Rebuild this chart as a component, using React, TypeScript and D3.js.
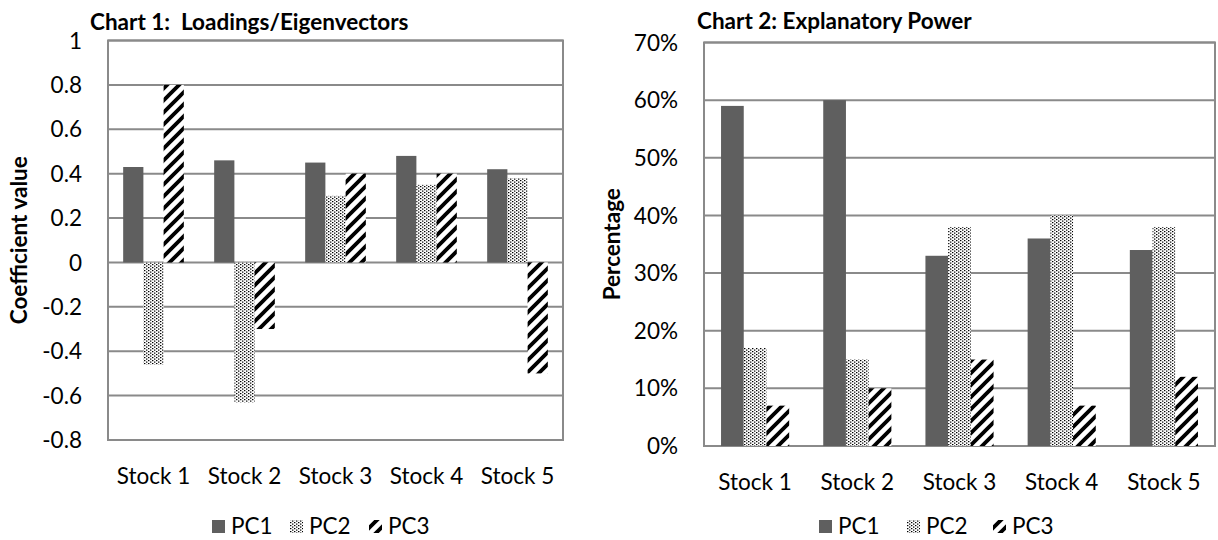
import React from 'react';
import * as d3 from 'd3';

const stocks = ['Stock 1', 'Stock 2', 'Stock 3', 'Stock 4', 'Stock 5'];
const seriesNames = ['PC1', 'PC2', 'PC3'];

const loadingsPC1 = [0.43, 0.46, 0.45, 0.48, 0.42];
const loadingsPC2 = [-0.46, -0.63, 0.3, 0.35, 0.38];
const loadingsPC3 = [0.8, -0.3, 0.4, 0.4, -0.5];

const powerPC1 = [0.59, 0.6, 0.33, 0.36, 0.34];
const powerPC2 = [0.17, 0.15, 0.38, 0.4, 0.38];
const powerPC3 = [0.07, 0.1, 0.15, 0.07, 0.12];

const loadingTicks = [-0.8, -0.6, -0.4, -0.2, 0, 0.2, 0.4, 0.6, 0.8, 1];
const powerTicks = [0, 0.1, 0.2, 0.3, 0.4, 0.5, 0.6, 0.7];

const FONT = 'Lato, "Open Sans", sans-serif';
const GRID = '#8a8a8a';
const FS = 22.5;
const fills = ['#5f5f5f', 'url(#dots)', 'url(#diag)'];

type ChartProps = {
  title: string;
  yTitle: string;
  series: number[][];
  ticks: number[];
  fmt: (v: number) => string;
  left: number;
  right: number;
  top: number;
  bottom: number;
  titleX: number;
  titleY: number;
  yTitleX: number;
  legendX: number;
  legendOffsets: number[];
};

function Chart(p: ChartProps) {
  const y = d3.scaleLinear().domain([p.ticks[0], p.ticks[p.ticks.length - 1]]).range([p.bottom, p.top]);
  const x0 = d3.scaleBand().domain(stocks).range([p.left, p.right]).paddingInner(0).paddingOuter(0);
  const bw = x0.bandwidth() / 4.5;
  const x1 = d3.scaleBand().domain(seriesNames).range([0, bw * 3]);
  const y0 = y(Math.max(0, p.ticks[0]));
  return (
    <g>
      <text
        x={p.titleX}
        y={p.titleY}
        fontFamily={FONT}
        fontWeight="bold"
        fontSize={FS}
        fill="#000"
        style={{ whiteSpace: 'pre' }}
      >
        {p.title}
      </text>
      {p.ticks.map((t) => (
        <g key={t}>
          <line x1={p.left} x2={p.right} y1={y(t)} y2={y(t)} stroke={GRID} strokeWidth={2} />
          <text x={p.left - 26} y={y(t)} dy="0.36em" textAnchor="end" fontFamily={FONT} fontSize={FS} fill="#000">
            {p.fmt(t)}
          </text>
        </g>
      ))}
      <rect x={p.left} y={p.top} width={p.right - p.left} height={p.bottom - p.top} fill="none" stroke={GRID} strokeWidth={2} />
      {p.series.map((vals, si) =>
        vals.map((v, ci) => {
          const xx = (x0(stocks[ci]) as number) + bw * 0.75 + (x1(seriesNames[si]) as number);
          const ya = y(v);
          return (
            <rect
              key={`${si}-${ci}`}
              x={xx}
              y={Math.min(ya, y0)}
              width={x1.bandwidth()}
              height={Math.abs(ya - y0)}
              fill={fills[si]}
            />
          );
        })
      )}
      {stocks.map((s) => (
        <text
          key={s}
          x={(x0(s) as number) + x0.bandwidth() / 2}
          y={p.bottom + 44}
          textAnchor="middle"
          fontFamily={FONT}
          fontSize={FS}
          fill="#000"
        >
          {s}
        </text>
      ))}
      <text
        transform={`translate(${p.yTitleX},${(p.top + p.bottom) / 2}) rotate(-90)`}
        textAnchor="middle"
        fontFamily={FONT}
        fontWeight="bold"
        fontSize={FS}
        fill="#000"
      >
        {p.yTitle}
      </text>
      {[0, 1, 2].map((i) => (
        <g key={i} transform={`translate(${p.legendX + p.legendOffsets[i]},0)`}>
          <rect x={0} y={520} width={13} height={13} fill={fills[i]} />
          <text x={19} y={534} fontFamily={FONT} fontSize={FS} fill="#000">
            {seriesNames[i]}
          </text>
        </g>
      ))}
    </g>
  );
}

export default function App() {
  return (
    <div style={{ position: 'absolute', left: 0, top: 0 }}>
      <svg width={1218} height={540} style={{ display: 'block', background: '#fff' }}>
        <defs>
          <pattern id="dots" patternUnits="userSpaceOnUse" width={4} height={3}>
            <rect width={4} height={3} fill="#fff" />
            <rect x={0} y={0} width={1.4} height={1.2} fill="#000" />
            <rect x={2} y={1.5} width={1.4} height={1.2} fill="#000" />
          </pattern>
          <pattern id="diag" patternUnits="userSpaceOnUse" width={12} height={12}>
            <rect width={12} height={12} fill="#fff" />
            <path d="M-3,3 L3,-3 M0,12 L12,0 M9,15 L15,9" stroke="#000" strokeWidth={3.8} />
          </pattern>
        </defs>
        <Chart
          title="Chart 1:  Loadings/Eigenvectors"
          yTitle="Coefficient value"
          series={[loadingsPC1, loadingsPC2, loadingsPC3]}
          ticks={loadingTicks}
          fmt={(v) => String(+v.toFixed(1))}
          left={108}
          right={563}
          top={40.5}
          bottom={440}
          titleX={90}
          titleY={30}
          yTitleX={27}
          legendX={212}
          legendOffsets={[0, 78, 157]}
        />
        <Chart
          title="Chart 2: Explanatory Power"
          yTitle="Percentage"
          series={[powerPC1, powerPC2, powerPC3]}
          ticks={powerTicks}
          fmt={(v) => d3.format('.0%')(v)}
          left={704}
          right={1215}
          top={42.5}
          bottom={446}
          titleX={697}
          titleY={29}
          yTitleX={620}
          legendX={819}
          legendOffsets={[0, 88, 174]}
        />
      </svg>
    </div>
  );
}
